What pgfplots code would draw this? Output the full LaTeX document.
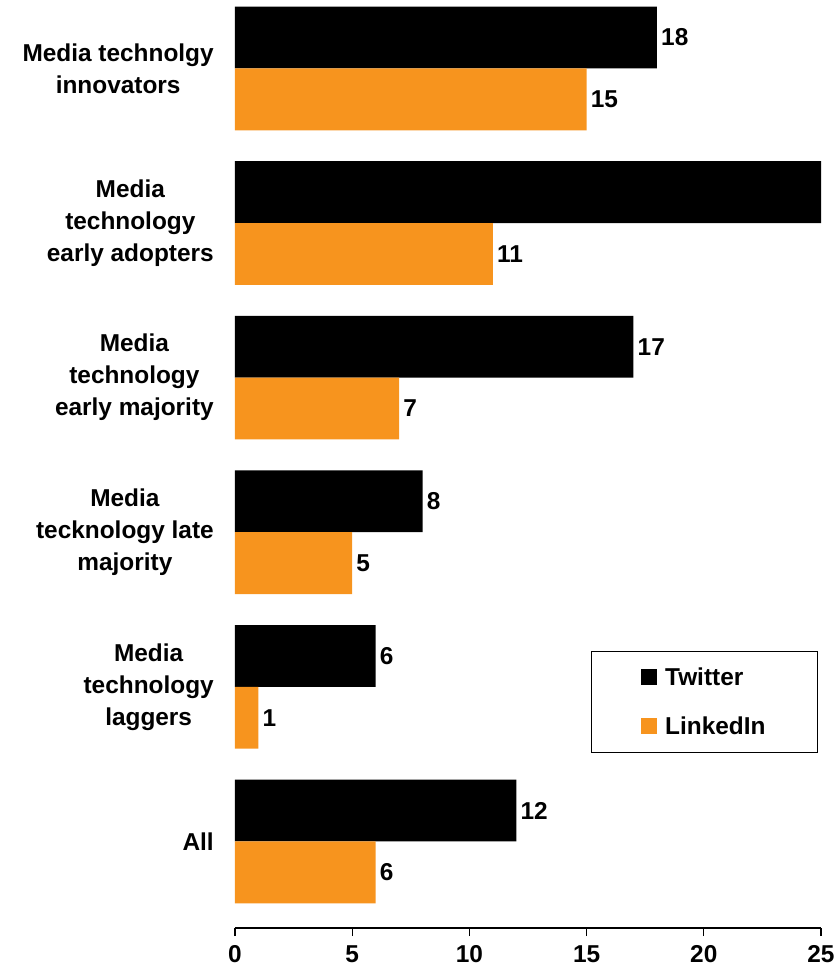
\documentclass[border=0pt]{standalone}
\usepackage{pgfplots}
\pgfplotsset{compat=1.18}
\usepackage{fontspec}
\setmainfont{Liberation Sans}
\definecolor{tw}{RGB}{0,0,0}
\definecolor{li}{RGB}{247,148,30}
\newcommand\lblfont{\fontsize{18.3}{24}\selectfont\bfseries}
\begin{document}
\begin{tikzpicture}
\begin{axis}[
  scale only axis,
  width=439.5pt, height=696pt,
  xmin=0, xmax=25, ymin=-0.56, ymax=5.443,
  axis lines*=left,
  y axis line style={draw=none},
  x axis line style={line width=0.9pt},
  xtick={0,5,10,15,20,25},
  tick align=outside,
  major tick length=6pt,
  xtick style={black, line width=0.9pt},
  ytick={0,1,2,3,4,5},
  ytick style={draw=none},
  yticklabels={All, {Media\\technology\\laggers}, {Media\\tecknology late\\majority}, {Media\\technology\hspace*{12pt}\\early majority}, {Media\\technology\hspace*{14pt}\\early adopters}, {Media technolgy\\innovators}},
  yticklabel style={align=center, font=\lblfont, inner sep=0pt, anchor=east, xshift=-9.75pt},
  xticklabel style={font=\lblfont, inner sep=0pt, yshift=-7pt},
  /pgf/number format/assume math mode=true,
  xbar, bar width=0.4,
  point meta=explicit symbolic,
  nodes near coords,
  nodes near coords style={font=\lblfont, anchor=west, inner sep=0pt, xshift=3pt},
  legend style={at={(rel axis cs:0.995,0.2985)}, anchor=north east, draw=black, line width=0.9pt, font=\lblfont, inner xsep=37pt, inner ysep=10pt, row sep=18pt},
  legend cell align=left,
  legend image code/.code={\fill[#1] (0pt,-6pt) rectangle (12pt,6pt); \path (16pt,0pt);},
]
\addplot[fill=tw, draw=none, bar shift=0.2] coordinates {
  (12,0) [12]
  (6,1) [6]
  (8,2) [8]
  (17,3) [17]
  (25,4) [{}]
  (18,5) [18]
};
\addlegendentry{Twitter}
\addplot[fill=li, draw=none, bar shift=-0.2] coordinates {
  (6,0) [6]
  (1,1) [1]
  (5,2) [5]
  (7,3) [7]
  (11,4) [11]
  (15,5) [15]
};
\addlegendentry{LinkedIn}
\end{axis}
\path (current axis.south west) ++(-176.25pt,-29.25pt);
\path (current axis.north east) ++(9pt,0pt);
\end{tikzpicture}
\end{document}
